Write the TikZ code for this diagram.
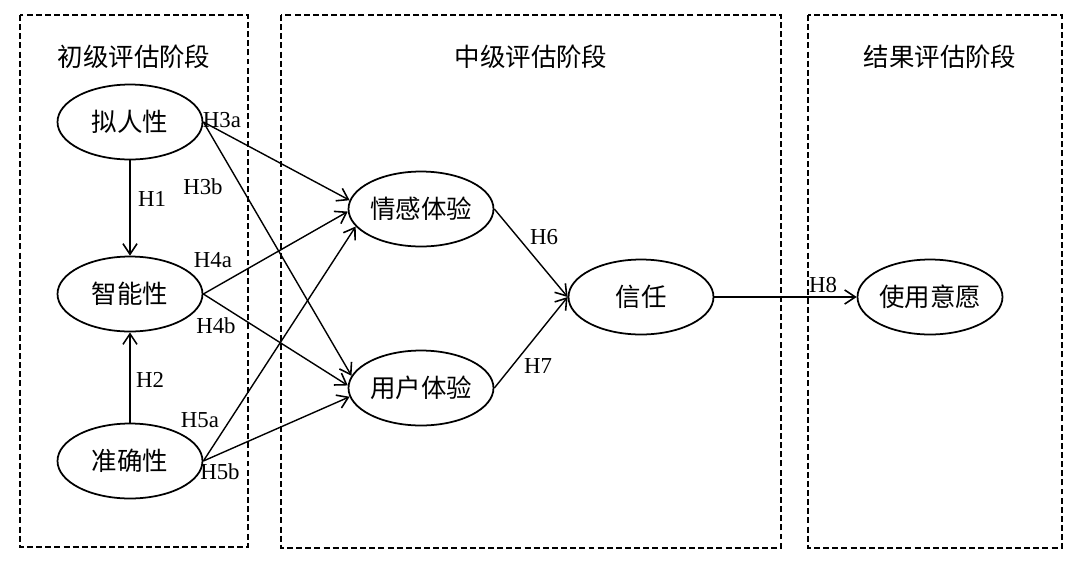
\documentclass[tikz,border=0pt]{standalone}
\usepackage{fontspec}
\usepackage{amsmath}
\usetikzlibrary{arrows.meta,shapes.geometric}
\setmainfont{Liberation Serif}
\newfontfamily\cjk{Noto Sans CJK SC}

\begin{document}
\begin{tikzpicture}[x=0.02cm,y=-0.02cm,
		stage/.style={draw,dash pattern=on 3.4pt off 1.8pt,line width=0.7pt},
		var/.style={draw,ellipse,line width=1pt,minimum width=2.9cm,minimum height=1.5cm,inner sep=0pt,font=\cjk\fontsize{14.5}{16}\selectfont},
		title/.style={font=\cjk\fontsize{14.5}{16}\selectfont},
		hyp/.style={-{Straight Barb[length=6pt,width=8pt,line width=0.9pt]},line width=0.8pt},
		lab/.style={font=\fontsize{13}{15}\selectfont,inner sep=1pt}]
		\useasboundingbox (0,0) rectangle (1080,562);
		% the three stages
		\draw[stage] (20,15) rectangle (248,547);
		\draw[stage] (281,15) rectangle (781,548);
		\draw[stage] (808,15) rectangle (1062,548);
		\node[title] (T1) at (134,57) {初级评估阶段};
		\node[title] (T2) at (531,57) {中级评估阶段};
		\node[title] (T3) at (940,57) {结果评估阶段};
		% variables
		\node[var] (Anthro) at (130,122) {拟人性};
		\node[var] (Intel) at (130,294) {智能性};
		\node[var] (Accur) at (130,461) {准确性};
		\node[var] (Emotion) at (421,209) {情感体验};
		\node[var] (UX) at (421,388) {用户体验};
		\node[var] (Trust) at (641,297) {信任};
		\node[var] (Intent) at (930,297) {使用意愿};
		% paths
		\draw[hyp] (Anthro) -- (Intel);
		\draw[hyp] (Accur) -- (Intel);
		\draw[hyp] (Anthro.east) -- (Emotion.173);
		\draw[hyp] (Anthro.east) -- (UX.170);
		\draw[hyp] (Intel.east) -- (Emotion.182);
		\draw[hyp] (Intel.east) -- (UX.178);
		\draw[hyp] (Accur.east) -- (Emotion.195);
		\draw[hyp] (Accur.east) -- (UX.187);
		\draw[hyp] (Emotion.east) -- (Trust.west);
		\draw[hyp] (UX.east) -- (Trust.west);
		\draw[hyp] (Trust.east) -- (Intent.west);
		% hypotheses
		\node[lab] (L1) at (152,199) {H1};
		\node[lab] (L2) at (150,380) {H2};
		\node[lab] (L3a) at (222,120) {H3a};
		\node[lab] (L3b) at (203,187) {H3b};
		\node[lab] (L4a) at (213,260) {H4a};
		\node[lab] (L4b) at (216,326) {H4b};
		\node[lab] (L5a) at (200,420) {H5a};
		\node[lab] (L5b) at (220,472) {H5b};
		\node[lab] (L6) at (544,237) {H6};
		\node[lab] (L7) at (538,366) {H7};
		\node[lab] (L8) at (823,285) {H8};
	\end{tikzpicture}
\end{document}
